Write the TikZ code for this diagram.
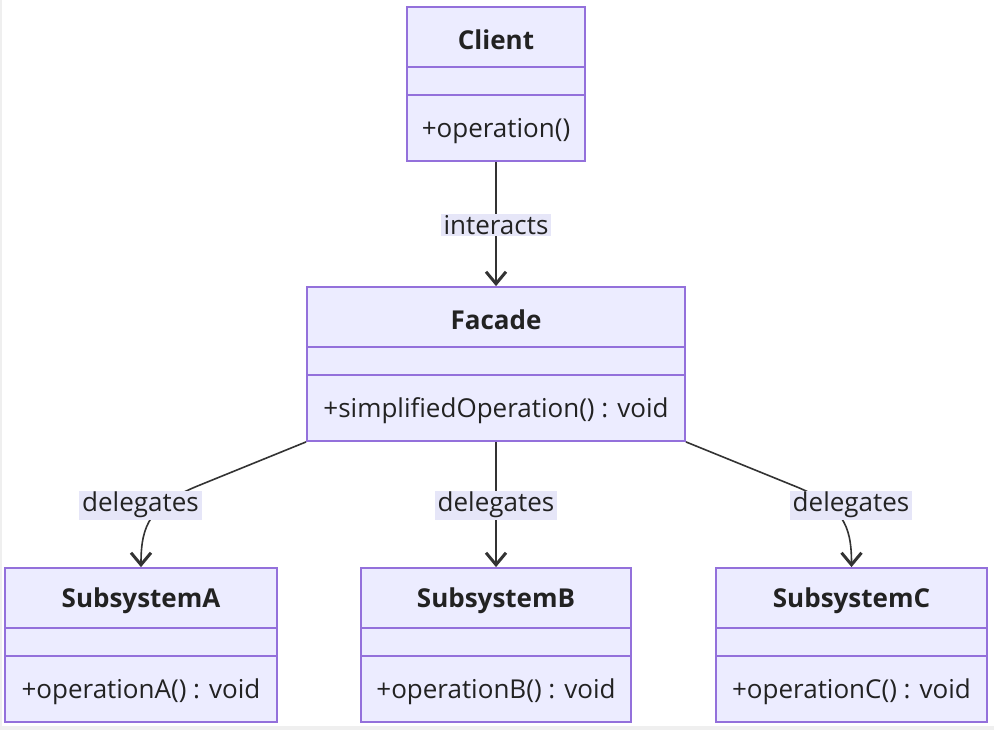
\documentclass[tikz,border=0pt]{standalone}
\usepackage{fontspec}
\setmainfont{Open Sans}
\usetikzlibrary{arrows.meta,calc}
\definecolor{boxfill}{HTML}{ECECFF}
\definecolor{boxline}{HTML}{9370DB}
\definecolor{edgecol}{HTML}{333333}
\definecolor{lblbg}{HTML}{E6E6F8}
\definecolor{txt}{HTML}{222222}
\definecolor{frame}{HTML}{EFEFEF}
\begin{document}
\begin{tikzpicture}[x=1pt,y=-1pt,
  classbox/.style={draw=boxline,fill=boxfill,line width=1.8pt,minimum height=154pt,inner sep=0pt,anchor=center},
  divider/.style={draw=boxline,line width=1.6pt},
  ctitle/.style={text=txt,font=\fontsize{26}{30}\selectfont\bfseries,inner sep=0pt},
  cmeth/.style={text=txt,font=\fontsize{26}{30}\selectfont,inner sep=0pt},
  elabel/.style={fill=lblbg,text=txt,font=\fontsize{26}{30}\selectfont,inner xsep=3pt,inner ysep=1.5pt},
  edge/.style={draw=edgecol,line width=2.2pt,-{Straight Barb[length=12pt,width=20pt,line width=3pt]}},
  edgethin/.style={draw=edgecol,line width=1.6pt,-{Straight Barb[length=12pt,width=20pt,line width=3pt]}}
]
\useasboundingbox (0,0) rectangle (994,730);
\fill[white] (0,0) rectangle (994,730);
\fill[frame] (0,726) rectangle (994,730);
\fill[frame] (0,0) rectangle (2,730);

% class boxes
\node[classbox,minimum width=178pt] (client) at (496,84) {};
\node[classbox,minimum width=378pt] (facade) at (496,364) {};
\node[classbox,minimum width=272pt] (subA) at (141,645) {};
\node[classbox,minimum width=270pt] (subB) at (496,645) {};
\node[classbox,minimum width=271pt] (subC) at (851.5,645) {};

\foreach \n in {client,facade,subA,subB,subC}{
  \draw[divider] ($(\n.north west)+(0,61)$) -- ($(\n.north east)+(0,61)$);
  \draw[divider] ($(\n.north west)+(0,89)$) -- ($(\n.north east)+(0,89)$);
}

% texts
\node[ctitle] (clientT) at ($(client.north)+(0,33.5)$) {Client};
\node[cmeth] (clientM) at ($(client.south)+(0,-31)$) {+operation()};
\node[ctitle] (facadeT) at ($(facade.north)+(0,33.5)$) {Facade};
\node[cmeth] (facadeM) at ($(facade.south)+(0,-31)$) {+simplifiedOperation() : void};
\node[ctitle] (subAT) at ($(subA.north)+(0,33.5)$) {SubsystemA};
\node[cmeth] (subAM) at ($(subA.south)+(0,-31)$) {+operationA() : void};
\node[ctitle] (subBT) at ($(subB.north)+(0,33.5)$) {SubsystemB};
\node[cmeth] (subBM) at ($(subB.south)+(0,-31)$) {+operationB() : void};
\node[ctitle] (subCT) at ($(subC.north)+(0,33.5)$) {SubsystemC};
\node[cmeth] (subCM) at ($(subC.south)+(0,-31)$) {+operationC() : void};

% edges
\draw[edge] (client.south) -- (facade.north);
\node[elabel] (lblI) at (496,225) {interacts};

\draw[edge] (facade.south) -- (subB.north);
\node[elabel] (lblB) at (496,505) {delegates};

\coordinate (aMid) at (200,485);
\draw[edgethin] (facade.south west) -- (aMid) .. controls (150,505) and (141,525) .. (subA.north);
\node[elabel] (lblA) at (140.5,505) {delegates};

\coordinate (cMid) at (792,485);
\draw[edgethin] (facade.south east) -- (cMid) .. controls (843,505) and (851.5,525) .. (subC.north);
\node[elabel] (lblC) at (851,505) {delegates};
\end{tikzpicture}
\end{document}
